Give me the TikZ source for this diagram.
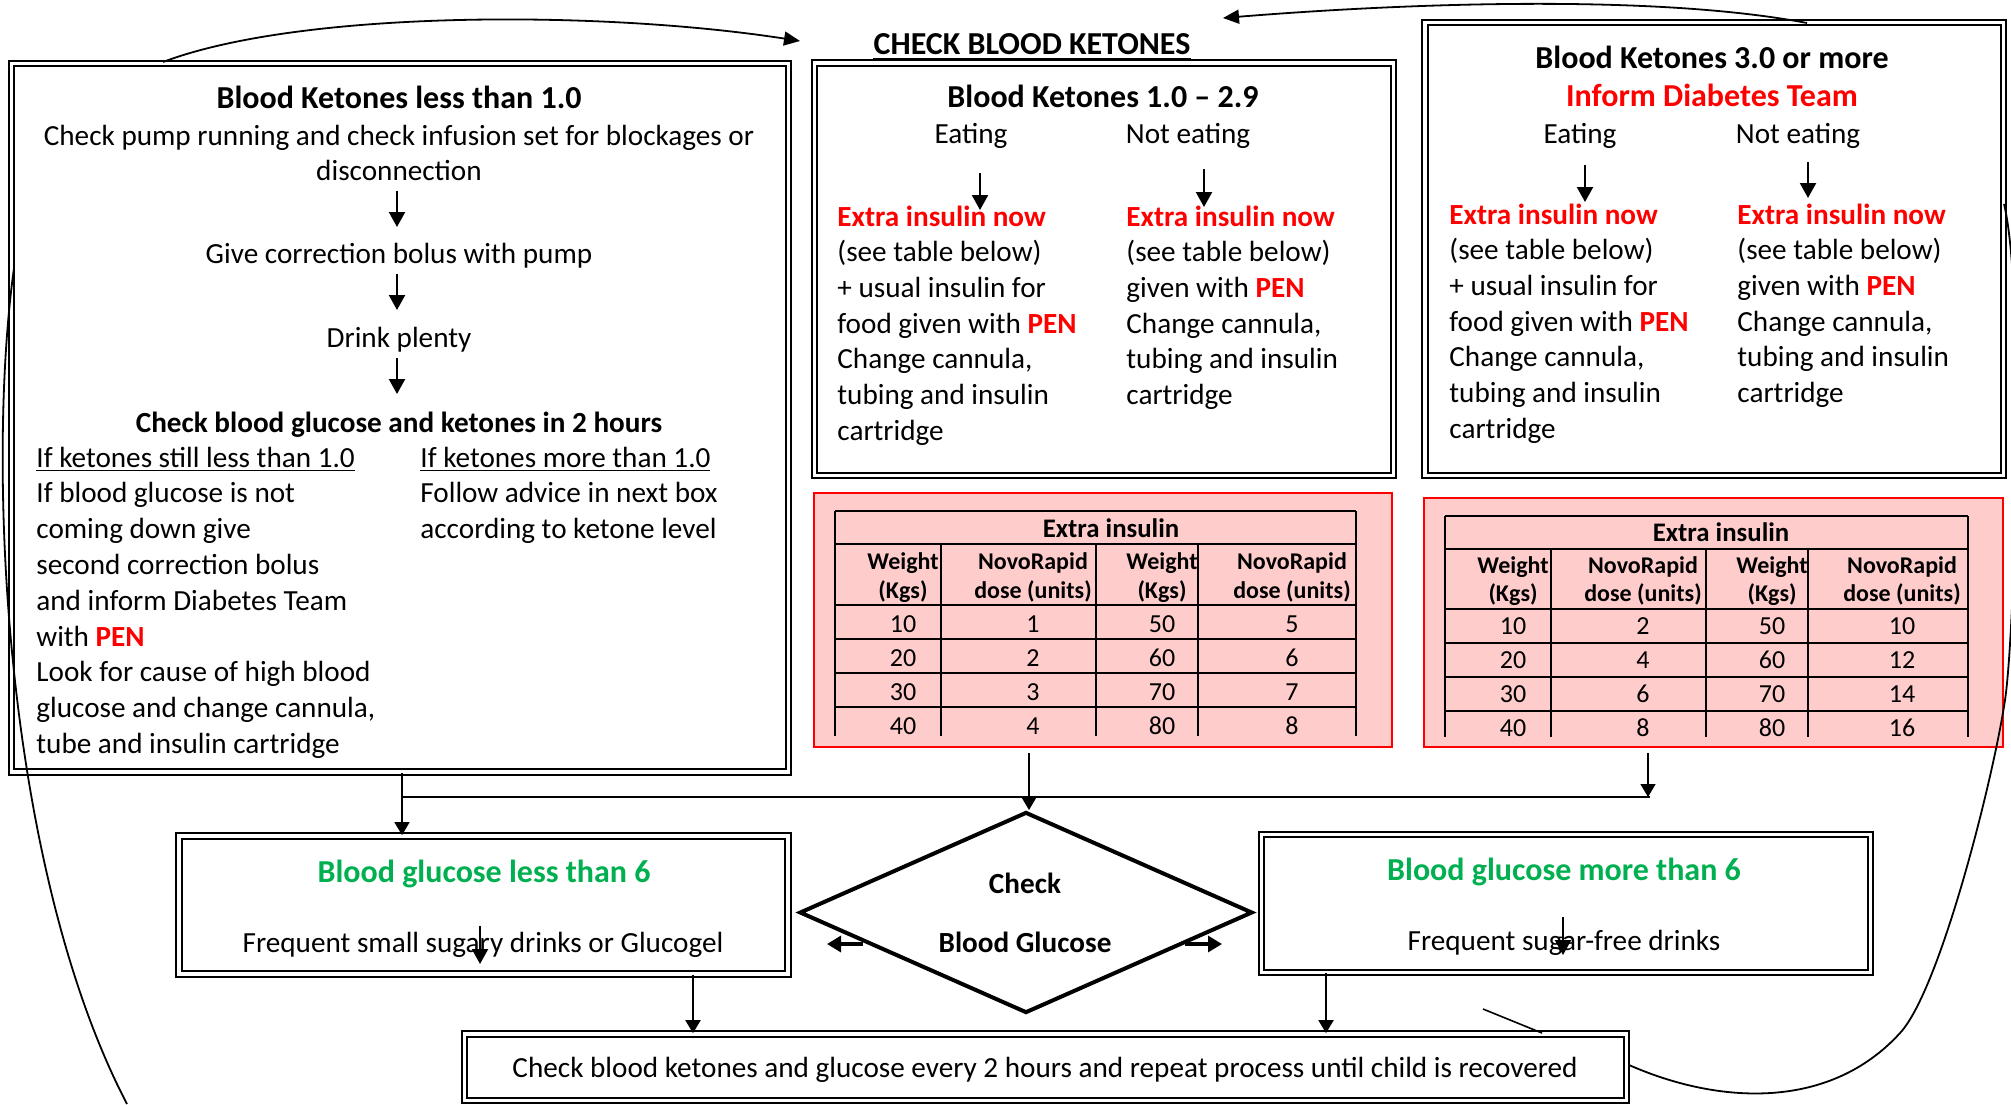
\documentclass[tikz,border=0pt]{standalone}
\usepackage{fontspec}
\setmainfont{Carlito}
\usetikzlibrary{arrows.meta,shapes.geometric,fit}
\definecolor{alertred}{RGB}{255,0,0}
\definecolor{okgreen}{RGB}{0,176,80}
\definecolor{tablepink}{RGB}{255,204,204}
\newcommand{\pen}{\textcolor{alertred}{\textbf{PEN}}}
\newcommand{\extrains}{\textcolor{alertred}{\textbf{Extra insulin now}}}

\begin{document}
\begin{tikzpicture}[x=0.5pt,y=-0.5pt,
    dbox/.style={draw,line width=0.85pt,double distance=1.9pt,inner sep=0pt},
    pinkbox/.style={fill=tablepink,draw=alertred,line width=0.75pt,inner sep=0pt},
    body/.style={inner sep=0pt,anchor=base,font=\fontsize{14.6}{17.9}\selectfont},
    bodyb/.style={body,font=\fontsize{14.6}{17.9}\selectfont\bfseries},
    title/.style={body,font=\fontsize{16}{19}\selectfont\bfseries},
    lbody/.style={body,anchor=base west},
    tab/.style={inner sep=0pt,anchor=base,font=\fontsize{13}{15}\selectfont},
    tabb/.style={tab,font=\fontsize{12}{14}\selectfont\bfseries},
    tabt/.style={tab,font=\fontsize{13.4}{15}\selectfont\bfseries},
    tline/.style={line width=0.85pt},
    arr/.style={line width=1.1pt,-{Triangle[width=8pt,length=7.5pt]}},
    conn/.style={line width=0.7pt,-{Triangle[width=7.5pt,length=6.5pt]}},
    fat/.style={line width=1.6pt,-{Triangle[width=8pt,length=7pt]}},
    curve/.style={line width=0.9pt}]

	\useasboundingbox (0,0) rectangle (2011,1104);

	% boxes
	\node[dbox,fit={(11.5,63.5) (788.5,772)}] (lowbox) {};
	\node[dbox,fit={(814.5,63) (1393.5,475.5)}] (midbox) {};
	\node[dbox,fit={(1425,22.5) (2003.5,475.5)}] (highbox) {};
	\node[dbox,fit={(179,836) (788,974)}] (lowgbox) {};
	\node[dbox,fit={(1261.5,834.5) (1870.5,972.5)}] (highgbox) {};
	\node[dbox,fit={(464.5,1034) (1626.5,1100.5)}] (repbox) {};
	\node[pinkbox,fit={(814,493) (1392,747)}] (midtab) {};
	\node[pinkbox,fit={(1424,498) (2003,747)}] (hightab) {};

	% heading
	\node[title] (ckt) at (1032,54) {CHECK BLOOD KETONES};
	\draw[line width=1.3pt] ([yshift=-2.5pt]ckt.base west) -- ([yshift=-2.5pt]ckt.base east);

	% ketones less than 1.0
	\node[title] (lowt) at (399,108) {Blood Ketones less than 1.0};
	\node[body] (lowa) at (399,145) {Check pump running and check infusion set for blockages or};
	\node[body] (lowb) at (399,180) {disconnection};
	\node[body] (lowc) at (399,263) {Give correction bolus with pump};
	\node[body] (lowd) at (399,347) {Drink plenty};
	\node[bodyb] (lowe) at (399,432) {Check blood glucose and ketones in 2 hours};
	\node[lbody] (lowf) at (36,467) {\underline{If ketones still less than 1.0}};
	\node[lbody] (lowg) at (420,467) {\underline{If ketones more than 1.0}};
	\foreach \txt [count=\i] in {If blood glucose is not,coming down give,second correction bolus,and inform Diabetes Team,with \pen,Look for cause of high blood,{glucose and change cannula,},tube and insulin cartridge}
		\node[lbody] (lowl\i) at (36,{467+35.8*\i}) {\txt};
	\foreach \txt [count=\i] in {Follow advice in next box,according to ketone level}
		\node[lbody] (lowr\i) at (420,{467+35.8*\i}) {\txt};
	\foreach \y [count=\i] in {191,274,358}
		\draw[arr] (397,\y) coordinate (ls\i) -- ++(0,36) coordinate (le\i);

	% ketones 1.0 - 2.9
	\node[title] (midt) at (1103,107) {Blood Ketones 1.0 \textendash{} 2.9};
	\node[body] (mide) at (971,143) {Eating};
	\node[body] (midn) at (1188,143) {Not eating};
	\foreach \txt [count=\i from 0] in {\extrains,(see table below),+ usual insulin for,food given with \pen,{Change cannula,},tubing and insulin,cartridge}
		\node[lbody] (mel\i) at (837,{226+35.7*\i}) {\txt};
	\foreach \txt [count=\i from 0] in {\extrains,(see table below),given with \pen,{Change cannula,},tubing and insulin,cartridge}
		\node[lbody] (mnl\i) at (1126,{226+35.7*\i}) {\txt};
	\coordinate (mes) at (980,173);
	\coordinate (mns) at (1204,169);
	\draw[arr] (mes) -- ++(0,37);
	\draw[arr] (mns) -- ++(0,38);

	% ketones 3.0 or more
	\node[title] (hight) at (1712,68) {Blood Ketones 3.0 or more};
	\node[title,text=alertred] (highi) at (1712,106) {Inform Diabetes Team};
	\node[body] (highe) at (1580,143) {Eating};
	\node[body] (highn) at (1798,143) {Not eating};
	\foreach \txt [count=\i from 0] in {\extrains,(see table below),+ usual insulin for,food given with \pen,{Change cannula,},tubing and insulin,cartridge}
		\node[lbody] (hel\i) at (1449,{224+35.7*\i}) {\txt};
	\foreach \txt [count=\i from 0] in {\extrains,(see table below),given with \pen,{Change cannula,},tubing and insulin,cartridge}
		\node[lbody] (hnl\i) at (1737,{224+35.7*\i}) {\txt};
	\coordinate (hes) at (1585,165);
	\coordinate (hns) at (1808,162);
	\draw[arr] (hes) -- ++(0,37);
	\draw[arr] (hns) -- ++(0,36);

	% table 1.0 - 2.9
	\foreach \y in {511,544,605,639,673,707}
		\draw[tline] (835,\y) -- (1356,\y);
	\foreach \x in {835,1356}
		\draw[tline] (\x,511) -- (\x,736);
	\foreach \x in {941,1096,1198}
		\draw[tline] (\x,544) -- (\x,736);
	\node[tabt] (mtt) at (1111,537) {Extra insulin};
	\foreach \x/\a/\b [count=\i] in {903/Weight/(Kgs),1033/NovoRapid/dose (units),1162/Weight/(Kgs),1292/NovoRapid/dose (units)} {
		\node[tabb] (mth\i) at (\x,569) {\a};
		\node[tabb] (mtu\i) at (\x,598) {\b};
	}
	\foreach \w/\d/\v/\e [count=\i] in {10/1/50/5,20/2/60/6,30/3/70/7,40/4/80/8} {
		\node[tab] (mtw\i) at (903,{598+34*\i}) {\w};
		\node[tab] (mtd\i) at (1033,{598+34*\i}) {\d};
		\node[tab] (mtv\i) at (1162,{598+34*\i}) {\v};
		\node[tab] (mte\i) at (1292,{598+34*\i}) {\e};
	}

	% table 3.0 or more
	\foreach \y in {516,549,609,643,677,711}
		\draw[tline] (1445,\y) -- (1968,\y);
	\foreach \x in {1445,1968}
		\draw[tline] (\x,516) -- (\x,737);
	\foreach \x in {1551,1706,1808}
		\draw[tline] (\x,549) -- (\x,737);
	\node[tabt] (htt) at (1721,541) {Extra insulin};
	\foreach \x/\a/\b [count=\i] in {1513/Weight/(Kgs),1643/NovoRapid/dose (units),1772/Weight/(Kgs),1902/NovoRapid/dose (units)} {
		\node[tabb] (hth\i) at (\x,573) {\a};
		\node[tabb] (htu\i) at (\x,601) {\b};
	}
	\foreach \w/\d/\v/\e [count=\i] in {10/2/50/10,20/4/60/12,30/6/70/14,40/8/80/16} {
		\node[tab] (htw\i) at (1513,{600+34*\i}) {\w};
		\node[tab] (htd\i) at (1643,{600+34*\i}) {\d};
		\node[tab] (htv\i) at (1772,{600+34*\i}) {\v};
		\node[tab] (hte\i) at (1902,{600+34*\i}) {\e};
	}

	% glucose check
	\node[draw,diamond,line width=2pt,minimum width=226.5pt,minimum height=100.5pt,inner sep=0pt] (chk) at (1026,912.5) {};
	\node[bodyb] (chka) at (1025,893) {Check};
	\node[bodyb] (chkb) at (1025,952) {Blood Glucose};
	\node[title,text=okgreen] (lowgt) at (484,882) {Blood glucose less than 6};
	\node[body] (lowgs) at (483,952) {Frequent small sugary drinks or Glucogel};
	\node[title,text=okgreen] (highgt) at (1564,880) {Blood glucose more than 6};
	\node[body] (highgs) at (1564,950) {Frequent sugar-free drinks};
	\node[body] (rept) at (1045,1077) {Check blood ketones and glucose every 2 hours and repeat process until child is recovered};

	% connectors
	\coordinate (jl) at (402,797);
	\coordinate (jr) at (1650,797);
	\coordinate (jm) at (1029,753);
	\coordinate (jt) at (1648,753);
	\coordinate (dl) at (693,0);
	\coordinate (dr) at (1326,0);
	\draw[line width=1pt] (jl) -- (jr);
	\draw[conn] (lowbox.south -| jl) -- (lowgbox.north -| jl);
	\draw[conn] (jm) -- (chk.north -| jm);
	\draw[conn] (jt) -- (jt |- jr);
	\draw[conn,line width=1pt] (lowgbox.south -| dl) -- (repbox.north -| dl);
	\draw[conn,line width=1pt] (highgbox.south -| dr) -- (repbox.north -| dr);
	\coordinate (cl) at (863,944);
	\coordinate (cr) at (1185,944);
	\draw[fat] (cl) -- ++(-36,0);
	\draw[fat] (cr) -- ++(37,0);
	\coordinate (sl) at (480,926);
	\coordinate (sr) at (1563,917);
	\draw[arr] (sl) -- ++(0,38);
	\draw[arr] (sr) -- ++(0,38);
	\draw[line width=0.8pt] (1483,1009) -- (1542,1033);

	% loops
	\draw[curve,-{Triangle[width=7pt,length=8pt]}] (163,62) .. controls (300,10) and (600,10) .. (800,41);
	\draw[curve,-{Triangle[width=7pt,length=8pt]}] (1807,23) .. controls (1660,-5) and (1420,2) .. (1223,18);
	\draw[curve] (14,268) .. controls (-14,470) and (5,870) .. (127,1104);
	\draw[curve] (1629,1065) .. controls (1720,1105) and (1830,1110) .. (1900,1033) .. controls (1940,990) and (1993,780) .. (2005,700) .. controls (2015,633) and (2025,290) .. (2004,204);

\end{tikzpicture}
\end{document}
